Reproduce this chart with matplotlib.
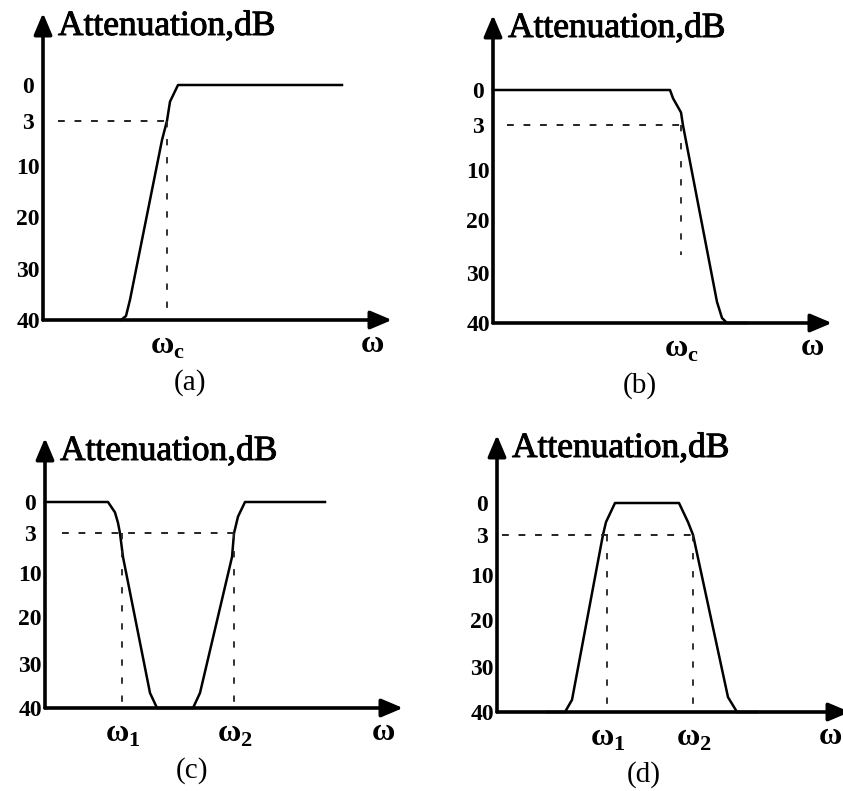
import numpy as np
import matplotlib
matplotlib.use('Agg')
import matplotlib.pyplot as plt
import matplotlib.patheffects as pe

plt.rcParams['font.family'] = 'Liberation Serif'
plt.rcParams['mathtext.fontset'] = 'custom'
plt.rcParams['mathtext.rm'] = 'Liberation Serif:bold'
plt.rcParams['mathtext.bf'] = 'Liberation Serif:bold'

# the dB axis of the sketch is not linear: tick spots as fraction of the 0 dB height
tick_db = [0, 3, 10, 20, 30, 40]
tick_lvl = [1.0, 0.848, 0.656, 0.44, 0.215, 0.0]
tick_labels = ['0', '3', '10', '20', '30', '40']

# (a) high pass
w_a = [0.78, 0.83, 0.87, 1.19, 1.24, 1.27, 1.35, 2.99]
db_a = [40, 39.2, 36.0, 6.0, 3.0, 1.4, 0, 0]
cut_a = [1.24]
sub_a = ['c']

# (b) low pass
w_b = [0.0, 1.77, 1.80, 1.88, 1.90, 2.24, 2.29, 2.34, 2.54]
db_b = [0, 0, 0.7, 1.9, 3.0, 35.8, 39.0, 40, 40]
cut_b = [1.88]
sub_b = ['c']

# (c) band stop
w_c = [0.0, 0.63, 0.70, 0.73, 0.75, 0.78, 1.05, 1.12, 1.48, 1.55, 1.87, 1.89, 1.93, 2.00, 2.80]
db_c = [0, 0, 1.0, 2.0, 3.0, 7.2, 36.6, 40, 40, 36.6, 7.2, 3.0, 1.4, 0, 0]
cut_c = [0.77, 1.89]
sub_c = ['1', '2']

# (d) band pass
w_d = [0.50, 0.68, 0.75, 1.05, 1.06, 1.09, 1.18, 1.82, 1.91, 1.96, 2.31, 2.40, 2.60]
db_d = [40, 40, 37.3, 3.9, 3.0, 1.8, 0, 0, 1.8, 3.0, 36.7, 40, 40]
cut_d = [1.10, 1.96]
sub_d = ['1', '2']

def lvl(db):
    return np.interp(db, tick_db, tick_lvl)

W, H = 843, 791
fig = plt.figure(figsize=(W/100, H/100), dpi=100)

# origin x, origin y, x axis length, px per 0 dB height, y axis length (all pixels)
panels = [
    ('(a)', w_a, db_a, cut_a, sub_a, 43, 320, 349, 235, 307, 0.15, 40),
    ('(b)', w_b, db_b, cut_b, sub_b, 493, 323, 339, 233, 308, 0.14, 26.6),
    ('(c)', w_c, db_c, cut_c, sub_c, 45, 708, 358, 206, 270, 0.17, 40),
    ('(d)', w_d, db_d, cut_d, sub_d, 497, 712, 353, 209, 277, 0.05, 40),
]
thick = [pe.withStroke(linewidth=0.7, foreground='black')]

for name, w, db, cuts, subs, ox, oy, xlen, hunit, top, hstart, vend in panels:
    ax = fig.add_axes([ox/W, (H-oy)/H, xlen/W, top/H])
    xmax = xlen/100
    ymax = top/hunit
    ax.set_xlim(0, xmax)
    ax.set_ylim(0, ymax)
    ax.axis('off')

    arr = dict(arrowstyle='-|>,head_length=1.3,head_width=0.55', mutation_scale=10,
               lw=2.6, color='black', shrinkA=0, shrinkB=0)
    ax.annotate('', xy=(xmax, 0), xytext=(0, 0), arrowprops=arr, annotation_clip=False)
    ax.annotate('', xy=(0, ymax), xytext=(0, 0), arrowprops=arr, annotation_clip=False)

    ax.plot(w, lvl(db), color='black', lw=1.8, clip_on=False, solid_joinstyle='round')

    ax.plot([hstart, max(cuts)], [lvl(3), lvl(3)], color='#222222', lw=1.4,
            ls=(0, (3.5, 5)), clip_on=False)
    for c, s in zip(cuts, subs):
        ax.plot([c, c], [lvl(3), lvl(vend)], color='#222222', lw=1.3,
                ls=(0, (3.5, 6.5)), clip_on=False)
        ax.annotate('ω$_\\mathrm{' + s + '}$', xy=(c, 0), xytext=(1, -34),
                    textcoords='offset pixels', ha='center', va='baseline',
                    fontsize=23, fontweight='bold', annotation_clip=False)

    for t, lab in zip(tick_db, tick_labels):
        ax.annotate(lab, xy=(0, lvl(t)), xytext=(-15, -8), textcoords='offset pixels',
                    ha='center', va='baseline', fontsize=17, fontweight='bold',
                    annotation_clip=False)

    ax.annotate('Attenuation,dB', xy=(0, ymax), xytext=(15, -22), textcoords='offset pixels',
                ha='left', va='baseline', fontsize=25.5, annotation_clip=False,
                path_effects=thick)
    ax.annotate('ω', xy=(xmax, 0), xytext=(-20, -32), textcoords='offset pixels',
                ha='center', va='baseline', fontsize=23, fontweight='bold',
                annotation_clip=False)
    ax.annotate(name, xy=(0, 0), xytext=(147, -70), textcoords='offset pixels',
                ha='center', va='baseline', fontsize=21, annotation_clip=False)

fig.savefig('out.png', dpi=100)
